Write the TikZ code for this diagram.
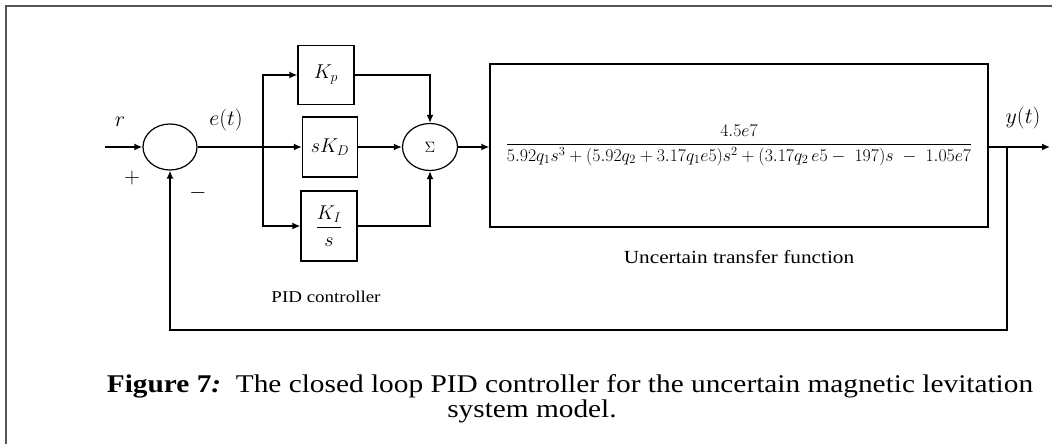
\documentclass[tikz,border=0pt]{standalone}
\usepackage{fix-cm}
\usepackage{amsmath}
\usepackage{fontspec}
\setmainfont{Liberation Serif}[FakeStretch=1.15]
\usetikzlibrary{arrows.meta,positioning,calc,shapes.geometric}
\definecolor{framegray}{HTML}{555555}

\begin{document}
\begin{tikzpicture}[
  x=1pt,y=1pt,
  >={Latex[length=8pt,width=7pt]},
  block/.style={draw,line width=1.2pt,inner sep=0pt,
    font=\fontsize{20}{24}\selectfont},
  sumnode/.style={ellipse,draw,line width=1.2pt,minimum width=54pt,
    minimum height=46pt,inner sep=0pt},
  sig/.style={->,line width=1.6pt},
  wire/.style={line width=1.6pt},
  lbl/.style={font=\fontsize{22}{26}\selectfont},
  every node/.style={font=\fontsize{17}{20}\selectfont}
]
\useasboundingbox (0,0) rectangle (1052,444);
\draw[framegray,line width=2pt] (6,0) -- (6,438) -- (1052,438);

% loop blocks
\node[sumnode] (err) at (170,297) {};
\node[block,minimum width=56pt,minimum height=59pt] (kp) at (326,369) {$K_p$};
\node[block,minimum width=55pt,minimum height=60pt] (kd) at (330,297) {$sK_D$};
\node[block,minimum width=56pt,minimum height=70pt] (ki) at (329,218)
  {$\dfrac{K_I}{s}$};
\node[sumnode,minimum width=55pt,minimum height=47pt] (sum) at (430,297)
  {\fontsize{15}{18}\selectfont$\Sigma$};
\node[block,minimum width=498pt,minimum height=163pt,
  font=\fontsize{17.8}{21}\selectfont] (plant) at (739,298.5)
  {$\dfrac{4.5e7}{5.92q_1s^3+(5.92q_2+3.17q_1e5)s^2+(3.17q_2\,e5-\ 197)s\ -\ 1.05e7}$};

\coordinate (in) at (105,297);
\coordinate (split) at (263,297);
\coordinate (tap) at (1007,297);
\coordinate (out) at (1050,297);
\coordinate (fbl) at (170,114);

\draw[sig] (in) -- (err);
\draw[wire] (err) -- (split);
\draw[sig] (split) -- (kd);
\draw[sig] (split) |- (kp);
\draw[sig] (split) |- (ki);
\draw[sig] (kp) -| (sum);
\draw[sig] (kd) -- (sum);
\draw[sig] (ki) -| (sum);
\draw[sig] (sum) -- (plant.west |- sum);
\draw[sig] (plant.east |- out) -- (out);
\draw[sig] (tap) |- (fbl) -- (err);

% signal labels
\node[lbl] (rlab) at (120,322) {$r$};
\node[lbl] (plus) at (132,266) {$+$};
\node[lbl] (minus) at (198,251) {$-$};
\node[lbl] (elab) at (226,324) {$e(t)$};
\node[lbl] (ylab) at (1023,326) {$y(t)$};
\node[font=\fontsize{16.5}{20}\selectfont] (pidlab) at (326,147) {PID controller};
\node[font=\fontsize{18.5}{22}\selectfont] (tflab) at (739,187)
  {Uncertain transfer function};

% caption
\node[anchor=base,font=\fontsize{25.5}{30}\selectfont] (cap1) at (570,51)
  {\textbf{Figure 7\textit{:}}\ \ The closed loop PID controller for the uncertain magnetic levitation};
\node[anchor=base,font=\fontsize{25.5}{30}\selectfont] (cap2) at (532,26)
  {system model.};
\end{tikzpicture}
\end{document}
